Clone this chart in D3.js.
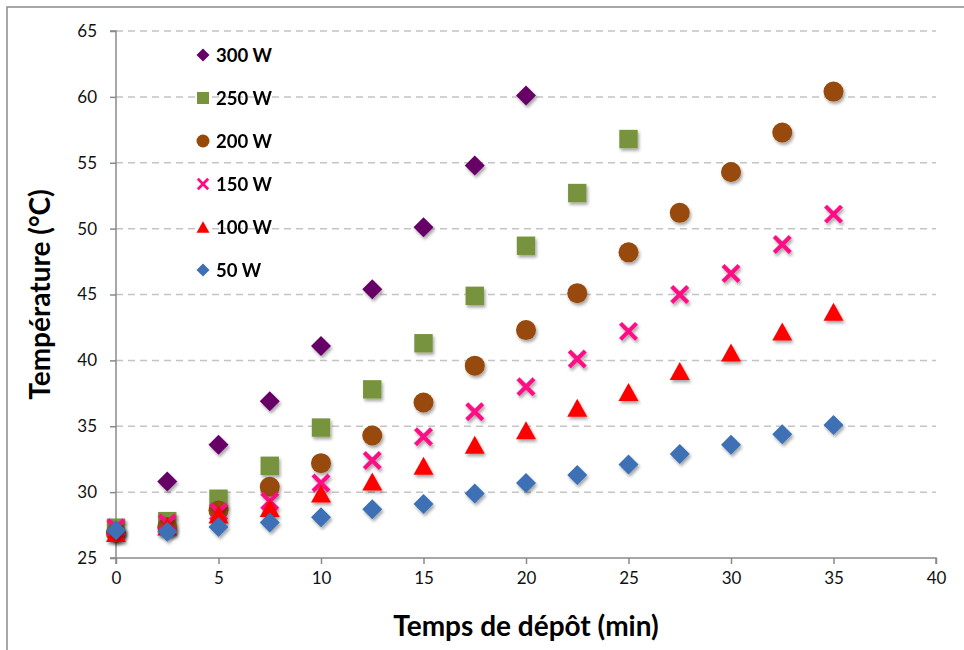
<!DOCTYPE html>
<html>
<head>
<meta charset="utf-8">
<script src="https://cdn.jsdelivr.net/npm/d3@7/dist/d3.min.js"></script>
<style>
  html, body { margin: 0; padding: 0; background: #fff; }
  svg { display: block; }
  text { font-family: Lato, "Open Sans", sans-serif; }
</style>
</head>
<body>
<svg id="chart" width="964" height="650"></svg>
<script>
// Deposition time (min)
const times = [0, 2.5, 5, 7.5, 10, 12.5, 15, 17.5, 20, 22.5, 25, 27.5, 30, 32.5, 35];

// Temperature (°C) for each power level
const temp300 = [27.0, 30.8, 33.6, 36.9, 41.1, 45.4, 50.1, 54.8, 60.1];
const temp250 = [27.3, 27.8, 29.5, 32.0, 34.9, 37.8, 41.3, 44.9, 48.7, 52.7, 56.8];
const temp200 = [26.9, 27.35, 28.6, 30.4, 32.2, 34.3, 36.8, 39.6, 42.3, 45.1, 48.2, 51.2, 54.3, 57.3, 60.4];
const temp150 = [27.3, 27.65, 28.5, 29.3, 30.7, 32.4, 34.2, 36.1, 38.0, 40.1, 42.2, 45.0, 46.6, 48.8, 51.1];
const temp100 = [26.9, 27.4, 28.3, 28.8, 29.9, 30.8, 32.0, 33.6, 34.7, 36.4, 37.6, 39.2, 40.6, 42.2, 43.7];
const temp50  = [27.1, 27.0, 27.35, 27.7, 28.1, 28.7, 29.1, 29.9, 30.7, 31.3, 32.1, 32.9, 33.6, 34.4, 35.1];

const seriesNames = ["300 W", "250 W", "200 W", "150 W", "100 W", "50 W"];
const seriesValues = [temp300, temp250, temp200, temp150, temp100, temp50];
const seriesColors = ["#660066", "#77933c", "#984807", "#ff0a84", "#ff0000", "#3d70b4"];
const seriesShapes = ["diamond", "square", "circle", "cross", "triangle", "diamond"];

const xTicks = [0, 5, 10, 15, 20, 25, 30, 35, 40];
const yTicks = [25, 30, 35, 40, 45, 50, 55, 60, 65];

const svg = d3.select("#chart");
const x = d3.scaleLinear().domain([0, 40]).range([116, 936]);
const y = d3.scaleLinear().domain([25, 65]).range([558, 31]);

// soft drop shadow under markers
const defs = svg.append("defs");
const f = defs.append("filter").attr("id", "shadow")
  .attr("x", "-50%").attr("y", "-50%").attr("width", "200%").attr("height", "200%");
f.append("feDropShadow").attr("dx", 1.5).attr("dy", 2.5)
  .attr("stdDeviation", 1.6).attr("flood-color", "#000").attr("flood-opacity", 0.35);

// outer frame
svg.append("rect").attr("x", 7).attr("y", 7).attr("width", 980).attr("height", 680)
  .attr("fill", "none").attr("stroke", "#8a8a8a").attr("stroke-width", 1.5);

// dashed horizontal gridlines
svg.append("g").selectAll("line").data(yTicks.filter(d => d > 25)).join("line")
  .attr("x1", x(0)).attr("x2", x(40))
  .attr("y1", d => y(d)).attr("y2", d => y(d))
  .attr("stroke", "#c4c4c4").attr("stroke-width", 1.5)
  .attr("stroke-dasharray", "7,5");

// axes
const xAxis = svg.append("g").attr("transform", `translate(0,${y(25)})`)
  .call(d3.axisBottom(x).tickValues(xTicks).tickSize(6).tickPadding(8).tickFormat(d3.format("d")));
const yAxis = svg.append("g").attr("transform", `translate(${x(0)},0)`)
  .call(d3.axisLeft(y).tickValues(yTicks).tickSize(6).tickPadding(13).tickFormat(d3.format("d")));
[xAxis, yAxis].forEach(a => {
  a.select(".domain").attr("stroke", "#8a8a8a").attr("stroke-width", 1.5);
  a.selectAll(".tick line").attr("stroke", "#8a8a8a").attr("stroke-width", 1.5);
  a.selectAll(".tick text").attr("fill", "#111").style("font-size", "17px")
    .style("font-family", "Lato, 'Open Sans', sans-serif");
});
xAxis.select(".domain").attr("d", `M${x(0)},6V0H${x(40)}V6`);
yAxis.select(".domain").attr("d", `M-6,${y(65)}H0V${y(25)}H-6`);

// axis titles
svg.append("text").attr("x", 526).attr("y", 636).attr("text-anchor", "middle")
  .style("font-size", "28px").style("font-weight", "bold").attr("fill", "#000")
  .text("Temps de dépôt (min)");
svg.append("text").attr("transform", `translate(50,${(y(25) + y(65)) / 2}) rotate(-90)`)
  .attr("text-anchor", "middle")
  .style("font-size", "28px").style("font-weight", "bold").attr("fill", "#000")
  .text("Température (°C)");

// marker path builder
function markerPath(shape, s) {
  const p = d3.path();
  if (shape === "diamond") {
    p.moveTo(0, -s); p.lineTo(s, 0); p.lineTo(0, s); p.lineTo(-s, 0); p.closePath();
  } else if (shape === "square") {
    const h = s * 0.92;
    p.rect(-h, -h, 2 * h, 2 * h);
  } else if (shape === "circle") {
    p.arc(0, 0, s, 0, 2 * Math.PI);
  } else if (shape === "triangle") {
    const h = s * 0.9;
    p.moveTo(0, -h); p.lineTo(s, h); p.lineTo(-s, h); p.closePath();
  }
  return p.toString();
}

function drawMarker(g, shape, color, s) {
  if (shape === "cross") {
    const c = s * 0.8;
    g.append("path").attr("d", `M${-c},${-c}L${c},${c}M${-c},${c}L${c},${-c}`)
      .attr("stroke", color).attr("stroke-width", s * 0.42).attr("fill", "none");
  } else {
    g.append("path").attr("d", markerPath(shape, s)).attr("fill", color);
  }
}

// data points
seriesValues.forEach((vals, i) => {
  const g = svg.append("g").attr("filter", "url(#shadow)");
  vals.forEach((v, j) => {
    const m = g.append("g").attr("transform", `translate(${x(times[j])},${y(v)})`);
    drawMarker(m, seriesShapes[i], seriesColors[i], 10);
  });
});

// legend
const legend = svg.append("g");
seriesNames.forEach((name, i) => {
  const row = legend.append("g").attr("transform", `translate(203,${55 + i * 43})`);
  drawMarker(row, seriesShapes[i], seriesColors[i], 6.5);
  row.append("text").attr("x", 13).attr("y", 6.5)
    .style("font-size", "18.5px").style("font-weight", "bold").attr("fill", "#000")
    .text(name);
});
</script>
</body>
</html>
